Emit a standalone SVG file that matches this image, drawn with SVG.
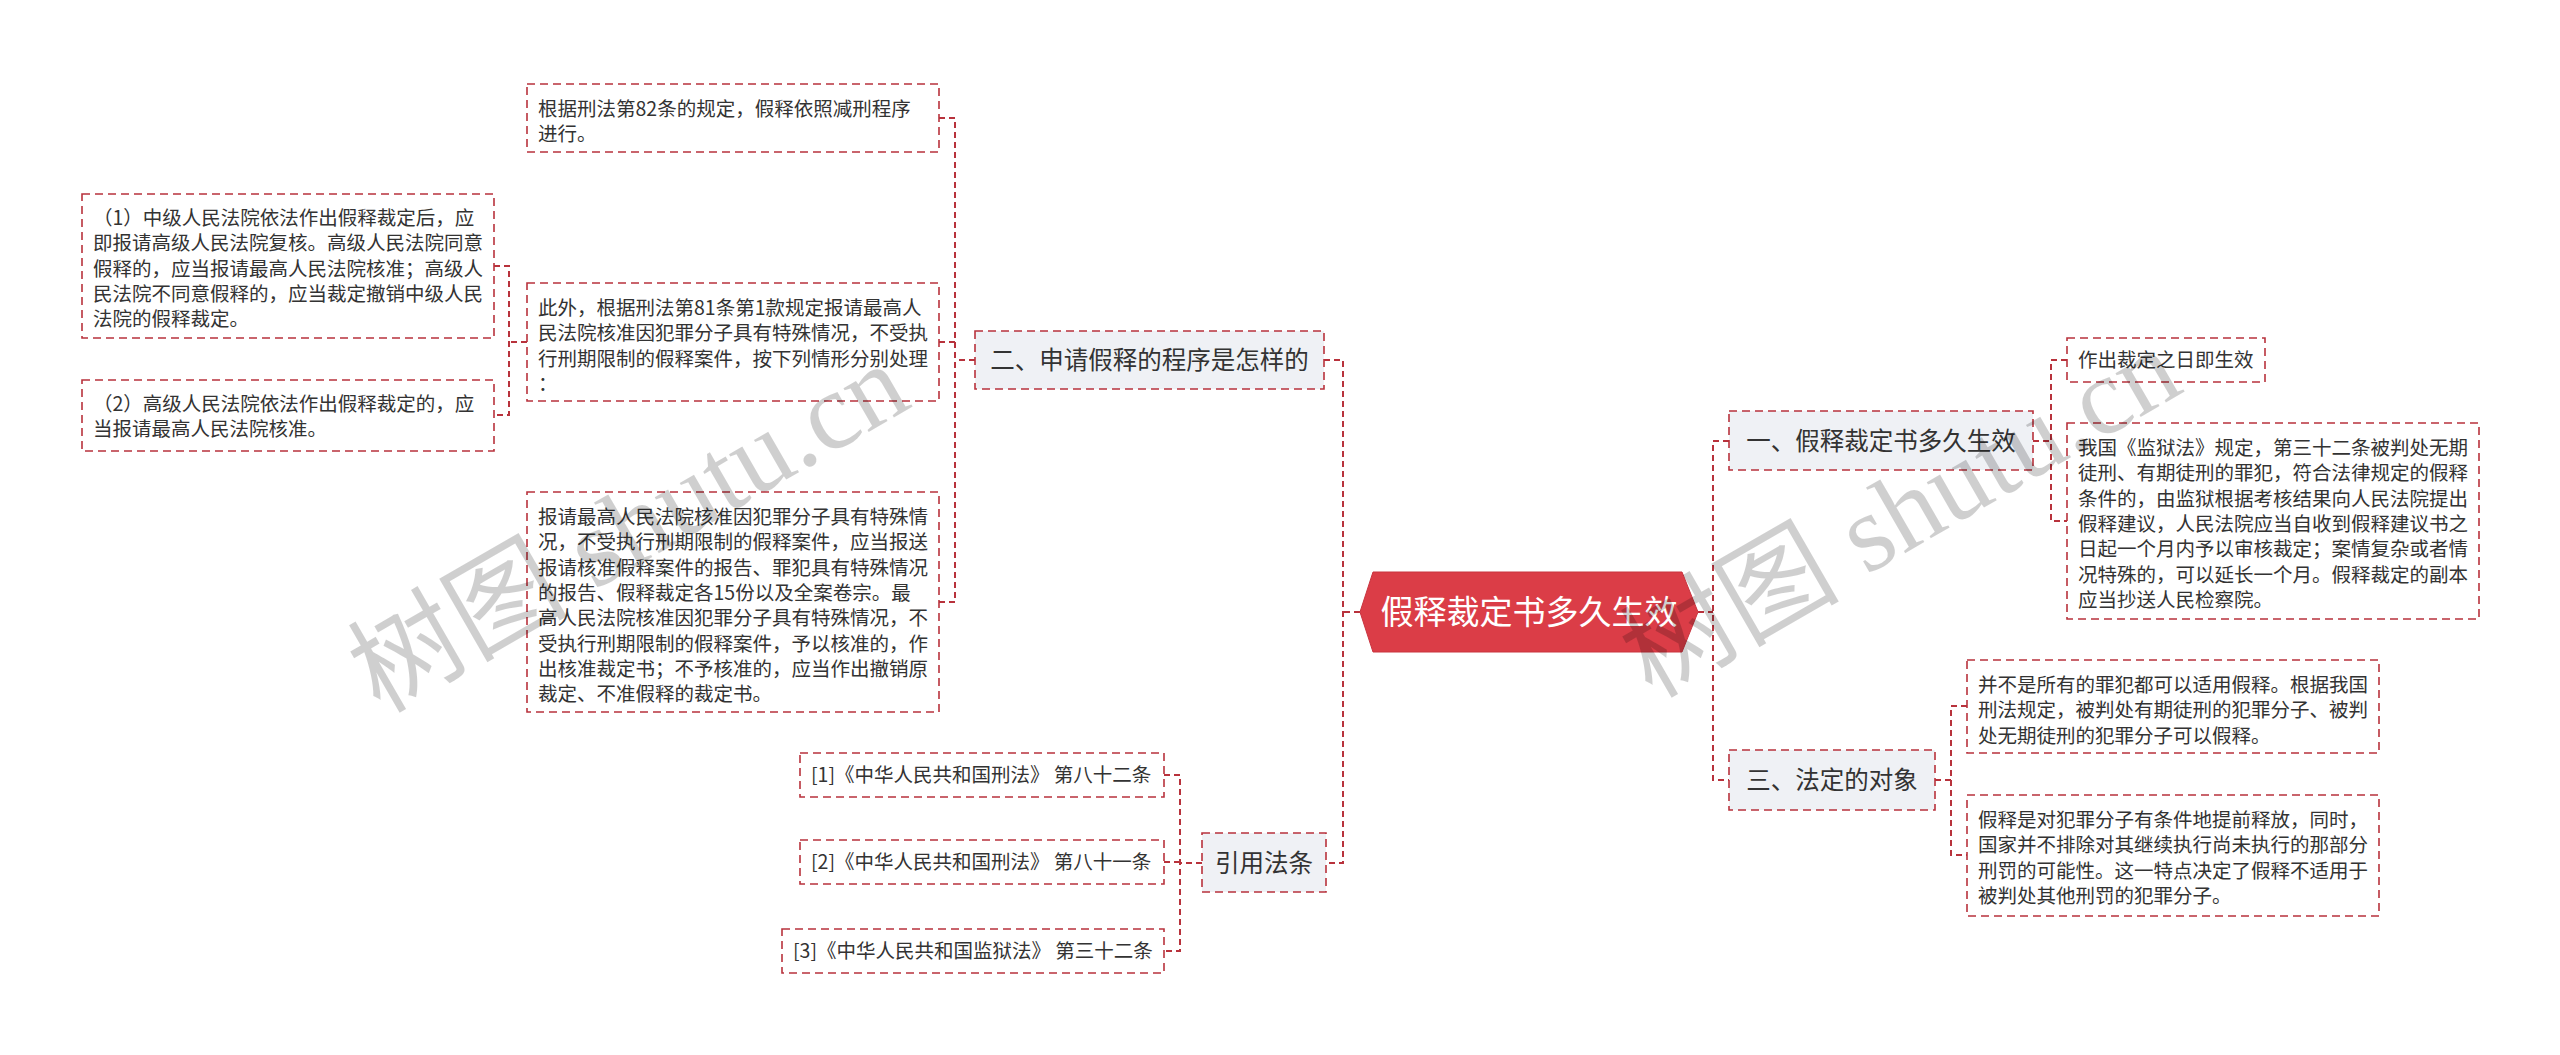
<svg xmlns="http://www.w3.org/2000/svg" width="2560" height="1055" viewBox="0 0 2560 1055">
<style>
.box{fill:#fff;stroke:#b8323c;stroke-width:1.6;stroke-dasharray:8 5}
.br{fill:#eff1f5;stroke:#b8323c;stroke-width:1.6;stroke-dasharray:8 5}
.t{font-family:"Noto Sans CJK SC","Noto Sans",sans-serif;font-size:19.5px;fill:#333}
.bt{font-family:"Noto Sans CJK SC","Noto Sans",sans-serif;font-size:24.5px;fill:#333;text-anchor:middle}
.ct{font-family:"Noto Sans CJK SC","Noto Sans",sans-serif;font-size:33px;fill:#fff;text-anchor:middle}
.conn{fill:none;stroke:#b8323c;stroke-width:2;stroke-dasharray:6 4}
.wm{font-family:"Liberation Serif","Noto Sans CJK SC",serif;font-size:110px;fill:#000;fill-opacity:0.19;text-anchor:middle}
</style>
<rect width="2560" height="1055" fill="#fff"/>
<g id="connectors">
<path class="conn" d="M1360 612 H1343 M1324 360 H1343 V863 H1326"/>
<path class="conn" d="M1698 612 H1713 M1729 441 H1713 V780 H1729"/>
<path class="conn" d="M975 360 H955 M939 118 H955 V602 H939 M939 342 H955"/>
<path class="conn" d="M527 342 H509 M494 266 H509 V415 H494"/>
<path class="conn" d="M1202 863 H1180 M1164 775 H1180 V951 H1164 M1164 862 H1180"/>
<path class="conn" d="M2033 441 H2051 M2067 360 H2051 V521 H2067"/>
<path class="conn" d="M1935 780 H1951 M1967 706 H1951 V855 H1967"/>
</g>
<g id="root">
<polygon points="1360,612 1373,572 1682,572 1698,612 1682,652 1373,652" fill="#db3d47" stroke="#c9343f" stroke-width="1"/>
<text class="ct" x="1529" y="624">假释裁定书多久生效</text>
</g>
<g id="n2">
<rect class="br" x="975" y="331" width="349" height="58"/>
<text class="bt" x="1149.5" y="369">二、申请假释的程序是怎样的</text>
</g>
<g id="n2a">
<rect class="box" x="527" y="84" width="412" height="68"/>
<text class="t" x="538" y="116">根据刑法第82条的规定，假释依照减刑程序</text>
<text class="t" x="538" y="141.3">进行。</text>
</g>
<g id="n2b">
<rect class="box" x="527" y="283" width="412" height="118"/>
<text class="t" x="538" y="315">此外，根据刑法第81条第1款规定报请最高人</text>
<text class="t" x="538" y="340.3">民法院核准因犯罪分子具有特殊情况，不受执</text>
<text class="t" x="538" y="365.6">行刑期限制的假释案件，按下列情形分别处理</text>
<text class="t" x="538" y="390.9">：</text>
</g>
<g id="n2b1">
<rect class="box" x="82" y="194" width="412" height="144"/>
<text class="t" x="93" y="225">（1）中级人民法院依法作出假释裁定后，应</text>
<text class="t" x="93" y="250.3">即报请高级人民法院复核。高级人民法院同意</text>
<text class="t" x="93" y="275.6">假释的，应当报请最高人民法院核准；高级人</text>
<text class="t" x="93" y="300.9">民法院不同意假释的，应当裁定撤销中级人民</text>
<text class="t" x="93" y="326.2">法院的假释裁定。</text>
</g>
<g id="n2b2">
<rect class="box" x="82" y="380" width="412" height="71"/>
<text class="t" x="93" y="411">（2）高级人民法院依法作出假释裁定的，应</text>
<text class="t" x="93" y="436.3">当报请最高人民法院核准。</text>
</g>
<g id="n2c">
<rect class="box" x="527" y="492" width="412" height="220"/>
<text class="t" x="538" y="524">报请最高人民法院核准因犯罪分子具有特殊情</text>
<text class="t" x="538" y="549.3">况，不受执行刑期限制的假释案件，应当报送</text>
<text class="t" x="538" y="574.6">报请核准假释案件的报告、罪犯具有特殊情况</text>
<text class="t" x="538" y="599.9">的报告、假释裁定各15份以及全案卷宗。最</text>
<text class="t" x="538" y="625.2">高人民法院核准因犯罪分子具有特殊情况，不</text>
<text class="t" x="538" y="650.5">受执行刑期限制的假释案件，予以核准的，作</text>
<text class="t" x="538" y="675.8">出核准裁定书；不予核准的，应当作出撤销原</text>
<text class="t" x="538" y="701.1">裁定、不准假释的裁定书。</text>
</g>
<g id="n3">
<rect class="br" x="1202" y="833" width="124" height="59"/>
<text class="bt" x="1264" y="872">引用法条</text>
</g>
<g id="n3a">
<rect class="box" x="800" y="753" width="364" height="44"/>
<text class="t" x="811" y="782">[1]《中华人民共和国刑法》 第八十二条</text>
</g>
<g id="n3b">
<rect class="box" x="800" y="840" width="364" height="44"/>
<text class="t" x="811" y="869">[2]《中华人民共和国刑法》 第八十一条</text>
</g>
<g id="n3c">
<rect class="box" x="782" y="929" width="382" height="44"/>
<text class="t" x="793" y="958">[3]《中华人民共和国监狱法》 第三十二条</text>
</g>
<g id="n1">
<rect class="br" x="1729" y="411" width="304" height="59"/>
<text class="bt" x="1881" y="450">一、假释裁定书多久生效</text>
</g>
<g id="n1a">
<rect class="box" x="2067" y="338" width="198" height="44"/>
<text class="t" x="2078" y="367">作出裁定之日即生效</text>
</g>
<g id="n1b">
<rect class="box" x="2067" y="423" width="412" height="196"/>
<text class="t" x="2078" y="455">我国《监狱法》规定，第三十二条被判处无期</text>
<text class="t" x="2078" y="480.3">徒刑、有期徒刑的罪犯，符合法律规定的假释</text>
<text class="t" x="2078" y="505.6">条件的，由监狱根据考核结果向人民法院提出</text>
<text class="t" x="2078" y="530.9">假释建议，人民法院应当自收到假释建议书之</text>
<text class="t" x="2078" y="556.2">日起一个月内予以审核裁定；案情复杂或者情</text>
<text class="t" x="2078" y="581.5">况特殊的，可以延长一个月。假释裁定的副本</text>
<text class="t" x="2078" y="606.8">应当抄送人民检察院。</text>
</g>
<g id="n4">
<rect class="br" x="1729" y="750" width="206" height="60"/>
<text class="bt" x="1832" y="789">三、法定的对象</text>
</g>
<g id="n4a">
<rect class="box" x="1967" y="660" width="412" height="93"/>
<text class="t" x="1978" y="692">并不是所有的罪犯都可以适用假释。根据我国</text>
<text class="t" x="1978" y="717.3">刑法规定，被判处有期徒刑的犯罪分子、被判</text>
<text class="t" x="1978" y="742.6">处无期徒刑的犯罪分子可以假释。</text>
</g>
<g id="n4b">
<rect class="box" x="1967" y="795" width="412" height="121"/>
<text class="t" x="1978" y="827">假释是对犯罪分子有条件地提前释放，同时，</text>
<text class="t" x="1978" y="852.3">国家并不排除对其继续执行尚未执行的那部分</text>
<text class="t" x="1978" y="877.6">刑罚的可能性。这一特点决定了假释不适用于</text>
<text class="t" x="1978" y="902.9">被判处其他刑罚的犯罪分子。</text>
</g>
<g id="watermark">
<text class="wm" transform="translate(647,560) rotate(-30)">树图 shutu.cn</text>
<text class="wm" transform="translate(1919,545) rotate(-30)">树图 shutu.cn</text>
</g>
</svg>
